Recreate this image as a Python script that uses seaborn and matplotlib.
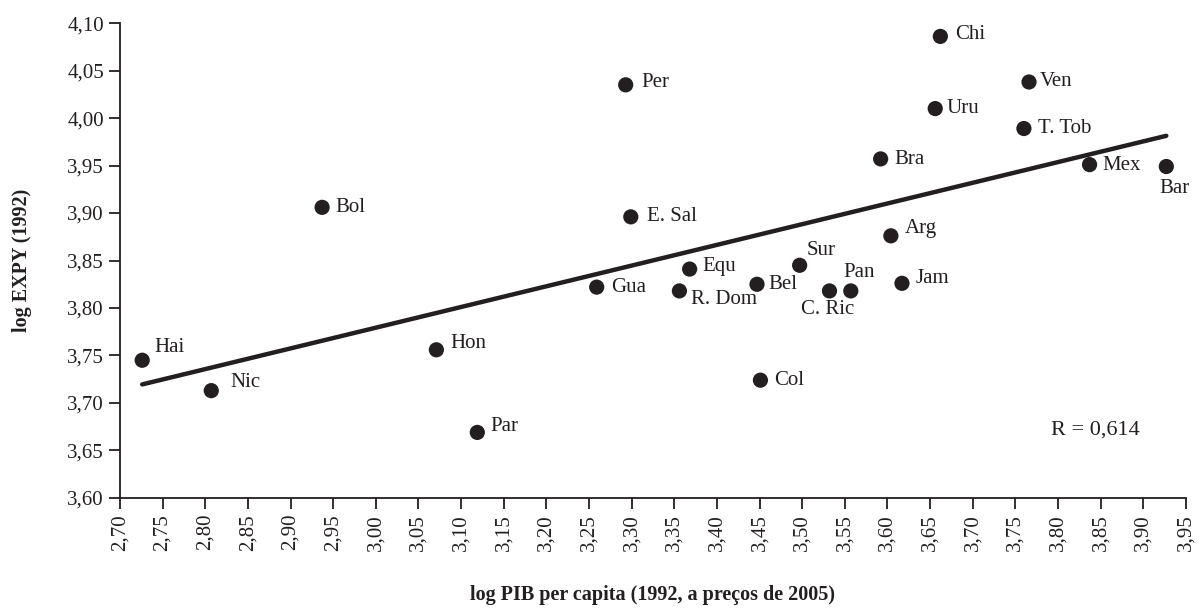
import numpy as np
import pandas as pd
import matplotlib
matplotlib.use('Agg')
import matplotlib.pyplot as plt
import seaborn as sns
from matplotlib.ticker import FuncFormatter, MultipleLocator

# Data
countries = ['Hai', 'Nic', 'Bol', 'Hon', 'Par', 'Per', 'E. Sal', 'Gua', 'Equ',
             'R. Dom', 'Bel', 'Sur', 'C. Ric', 'Pan', 'Col', 'Jam', 'Arg',
             'Bra', 'Uru', 'Chi', 'Ven', 'T. Tob', 'Mex', 'Bar']
log_pib = [2.726, 2.807, 2.937, 3.071, 3.119, 3.293, 3.299, 3.259, 3.368,
           3.356, 3.447, 3.497, 3.532, 3.557, 3.451, 3.617, 3.604,
           3.592, 3.656, 3.662, 3.766, 3.760, 3.837, 3.927]
log_expy = [3.745, 3.713, 3.906, 3.756, 3.669, 4.035, 3.896, 3.822, 3.841,
            3.818, 3.825, 3.845, 3.818, 3.818, 3.724, 3.826, 3.876,
            3.957, 4.010, 4.086, 4.038, 3.989, 3.951, 3.949]
r_text = 'R = 0,614'

# label placement (offset in pixels, horizontal alignment)
label_pos = {
    'Hai': (12, 13, 'left'), 'Nic': (19, 8, 'left'), 'Bol': (13, 0, 'left'),
    'Hon': (14, 6, 'left'), 'Par': (13, 6, 'left'), 'Per': (16, 2, 'left'),
    'E. Sal': (16, 0, 'left'), 'Gua': (14, 0, 'left'), 'Equ': (13, 3, 'left'),
    'R. Dom': (12, -9, 'left'), 'Bel': (11, 0, 'left'), 'Sur': (7, 15, 'left'),
    'C. Ric': (-2, -19, 'center'), 'Pan': (-7, 18, 'left'), 'Col': (14, 0, 'left'),
    'Jam': (14, 5, 'left'), 'Arg': (14, 7, 'left'), 'Bra': (14, -1, 'left'),
    'Uru': (11, 0, 'left'), 'Chi': (15, 2, 'left'), 'Ven': (11, 0, 'left'),
    'T. Tob': (14, 0, 'left'), 'Mex': (13, -1, 'left'), 'Bar': (8, -22, 'center'),
}

df = pd.DataFrame({'country': countries, 'pib': log_pib, 'expy': log_expy})

sns.set_style('ticks')
plt.rcParams['font.family'] = ['Liberation Serif', 'DejaVu Serif']
ink = '#231f20'

fig = plt.figure(figsize=(11.99, 6.08), dpi=100)
ax = fig.add_axes([0.1001, 0.181, 0.889, 0.781])

sns.regplot(data=df, x='pib', y='expy', scatter=False, ci=None, ax=ax,
            line_kws={'color': ink, 'linewidth': 3.2})
sns.scatterplot(data=df, x='pib', y='expy', ax=ax, color=ink, s=120,
                edgecolor='none', zorder=3)

for _, row in df.iterrows():
    dx, dy, ha = label_pos[row['country']]
    ax.annotate(row['country'], (row['pib'], row['expy']), xytext=(dx, dy),
                textcoords='offset pixels', ha=ha, va='center',
                fontsize=15, color=ink)

ax.text(0.873, 0.143, r_text, transform=ax.transAxes, fontsize=16,
        va='center', color=ink)

ax.set_xlim(2.70, 3.95)
ax.set_ylim(3.60, 4.10)
ax.xaxis.set_major_locator(MultipleLocator(0.05))
ax.yaxis.set_major_locator(MultipleLocator(0.05))
comma = FuncFormatter(lambda v, p: f'{v:.2f}'.replace('.', ','))
ax.xaxis.set_major_formatter(comma)
ax.yaxis.set_major_formatter(comma)
ax.tick_params(axis='both', labelsize=15, colors=ink, length=8, width=1.3,
               direction='out')
plt.setp(ax.get_xticklabels(), rotation=90)

for side in ['top', 'right']:
    ax.spines[side].set_visible(False)
for side in ['left', 'bottom']:
    ax.spines[side].set_color(ink)
    ax.spines[side].set_linewidth(1.3)

ax.set_xlabel('log PIB per capita (1992, a preços de 2005)', fontsize=14.5,
              fontweight='bold', color=ink, va='center')
ax.xaxis.set_label_coords(0.5, -0.204)
ax.set_ylabel('log EXPY (1992)', fontsize=14.5, fontweight='bold', color=ink,
              va='center')
ax.yaxis.set_label_coords(-0.092, 0.5)

fig.savefig('out.png', dpi=100)
